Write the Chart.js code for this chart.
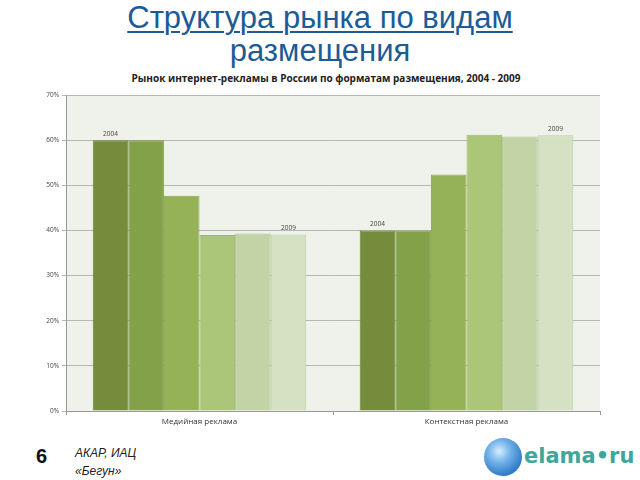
<!DOCTYPE html>
<html>
<head>
<meta charset="utf-8">
<script src="https://cdn.jsdelivr.net/npm/chart.js@4"></script>
<style>
  body { margin: 0; width: 640px; height: 480px; background: #fff; position: relative; overflow: hidden; font-family: "Liberation Sans", Arial, sans-serif; }
  #title { position: absolute; left: 0; top: 1px; width: 640px; text-align: center; color: #1d5b96; font-size: 31px; line-height: 33px; }
  #title u { text-decoration-thickness: 2px; text-underline-offset: 3px; }
  #sub { position: absolute; left: 0; top: 71px; width: 652px; text-align: center; font: bold 10px "Open Sans", sans-serif; color: #222; }
  #wrap { position: absolute; left: 0; top: 85px; width: 640px; height: 350px; }
  #num { position: absolute; left: 36px; top: 445px; font: bold 20px "Liberation Sans", Arial, sans-serif; color: #111; }
  #src { position: absolute; left: 75px; top: 444px; font: italic 12px "Liberation Sans", Arial, sans-serif; color: #222; line-height: 18px; }
  #logo { position: absolute; left: 484px; top: 438px; width: 156px; height: 42px; }
  #ball { position: absolute; left: 0; top: 0; width: 38px; height: 38px; border-radius: 50%; background: radial-gradient(circle at 40% 35%, #d6ecff 0%, #6fb0e8 35%, #2b78c4 75%, #1d5ea8 100%); }
  #logotext { position: absolute; left: 40px; top: 6px; font: bold 21px "DejaVu Sans", sans-serif; color: #3fa79a; white-space: nowrap; }
</style>
</head>
<body>
<div id="title"><u>Структура рынка по видам</u><br>размещения</div>
<div id="sub">Рынок интернет-рекламы в России по форматам размещения, 2004 - 2009</div>
<div id="wrap"><canvas id="chart" width="640" height="350"></canvas></div>
<div id="num">6</div>
<div id="src">АКАР, ИАЦ<br>«Бегун»</div>
<div id="logo"><div id="ball"></div><div id="logotext">elama•ru</div></div>
<script>
let categories = ['Медийная реклама', 'Контекстная реклама'];
let years = ['2004', '2005', '2006', '2007', '2008', '2009'];
let share2004 = [60.0, 40.0];
let share2005 = [60.0, 40.0];
let share2006 = [47.7, 52.4];
let share2007 = [39.0, 61.2];
let share2008 = [39.3, 60.8];
let share2009 = [39.1, 61.1];
let yTicks = [0, 10, 20, 30, 40, 50, 60, 70];

let fills = ['#748c3c', '#83a148', '#95b356', '#abc679', '#c2d3a5', '#d6e1c3'];
let edges = ['#6a8136', '#7a9743', '#89a64f', '#9db96c', '#aec190', '#bccba6'];

let allData = [share2004, share2005, share2006, share2007, share2008, share2009];

const plotBg = {
    id: 'plotBg',
    beforeDraw(chart) {
        let a = chart.chartArea;
        let ctx = chart.ctx;
        ctx.save();
        ctx.fillStyle = '#eff2ea';
        ctx.fillRect(a.left, a.top, a.right - a.left, a.bottom - a.top);
        ctx.restore();
    }
};

// year labels above first and last bar of each group
const yearLabels = {
    id: 'yearLabels',
    afterDatasetsDraw(chart) {
        let ctx = chart.ctx;
        ctx.save();
        ctx.font = '6.5px "Open Sans", sans-serif';
        ctx.fillStyle = '#444';
        ctx.textAlign = 'center';
        ctx.textBaseline = 'bottom';
        [0, 5].forEach(i => {
            chart.getDatasetMeta(i).data.forEach(bar => {
                ctx.fillText(chart.data.datasets[i].label, bar.x, bar.y - 3);
            });
        });
        ctx.restore();
    }
};

new Chart(document.getElementById('chart'), {
    type: 'bar',
    data: {
        labels: categories,
        datasets: years.map((y, i) => ({
            label: y,
            data: allData[i],
            backgroundColor: fills[i],
            borderColor: edges[i],
            borderWidth: 1,
            categoryPercentage: 0.8,
            barPercentage: 1.0
        }))
    },
    options: {
        responsive: false,
        animation: false,
        layout: { padding: { left: 30, right: 40, top: 10, bottom: 2 } },
        plugins: {
            legend: { display: false },
            tooltip: { enabled: false }
        },
        scales: {
            x: {
                grid: { display: true, drawOnChartArea: false, offset: true, color: '#999', tickLength: 4 },
                border: { color: '#999' },
                ticks: { color: '#333', font: { size: 8, family: '"Open Sans", sans-serif' }, padding: 2 },
                afterFit(s) { s.height = 22; }
            },
            y: {
                min: 0,
                max: 70,
                afterBuildTicks(s) { s.ticks = yTicks.map(v => ({ value: v })); },
                grid: { color: '#b5b8b0', tickLength: 4 },
                border: { color: '#999' },
                ticks: { color: '#444', font: { size: 6.5, family: '"Open Sans", sans-serif' }, padding: 3, callback: v => v + '%' },
                afterFit(s) { s.width = 36; }
            }
        }
    },
    plugins: [plotBg, yearLabels]
});
</script>
</body>
</html>
